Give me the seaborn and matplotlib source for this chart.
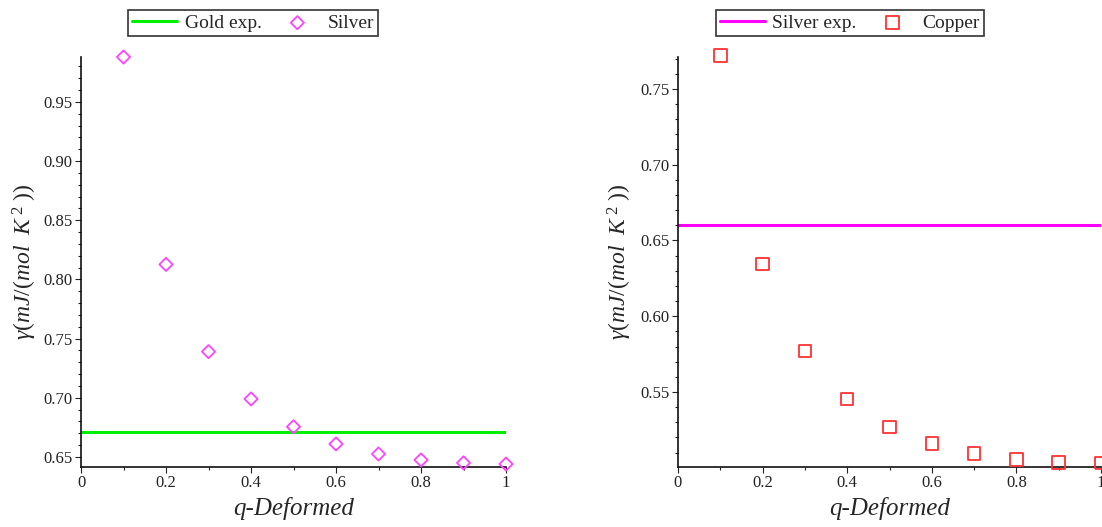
import matplotlib
matplotlib.use("Agg")
import matplotlib.pyplot as plt
import seaborn as sns
import pandas as pd
from matplotlib.ticker import MultipleLocator, FuncFormatter

# ---- data ----
q_values = [0.1, 0.2, 0.3, 0.4, 0.5, 0.6, 0.7, 0.8, 0.9, 1.0]
silver_gamma = [0.988, 0.8127, 0.739, 0.699, 0.6755, 0.661, 0.6525, 0.6475, 0.645, 0.644]
copper_gamma = [0.772, 0.6343, 0.577, 0.5454, 0.527, 0.516, 0.5095, 0.5055, 0.5035, 0.503]
gold_exp = 0.671
silver_exp = 0.660
exp_x = [0.0, 1.0]

sns.set_style("ticks")
plt.rcParams['font.family'] = ['Liberation Serif', 'DejaVu Serif']
plt.rcParams['mathtext.fontset'] = 'custom'
plt.rcParams['mathtext.rm'] = 'Liberation Serif'
plt.rcParams['mathtext.it'] = 'Liberation Serif:italic'

fig = plt.figure(figsize=(11.02, 5.27), dpi=100)
ax1 = fig.add_axes([81/1102, 1-467/527, 425/1102, 410/527])
ax2 = fig.add_axes([678/1102, 1-467/527, 423/1102, 410/527])

def draw(ax, exp_val, exp_label, exp_color, ys, label, marker, mcolor, msize, ylim, leg_center, ylab_x):
    df_line = pd.DataFrame({"q": exp_x, "g": [exp_val, exp_val]})
    sns.lineplot(data=df_line, x="q", y="g", ax=ax, color=exp_color, lw=2.2, label=exp_label)
    df_pts = pd.DataFrame({"q": q_values, "g": ys})
    sns.scatterplot(data=df_pts, x="q", y="g", ax=ax, marker=marker, s=msize,
                    facecolors="none", edgecolor=mcolor, linewidth=1.3, color=mcolor,
                    label=label, clip_on=False, zorder=5)
    ax.set_xlim(0, 1)
    ax.set_ylim(*ylim)
    ax.xaxis.set_major_locator(MultipleLocator(0.2))
    ax.xaxis.set_minor_locator(MultipleLocator(0.1))
    ax.yaxis.set_major_locator(MultipleLocator(0.05))
    ax.yaxis.set_minor_locator(MultipleLocator(0.01))
    ax.xaxis.set_major_formatter(FuncFormatter(lambda v, p: "0" if abs(v) < 1e-9 else ("1" if abs(v-1) < 1e-9 else f"{v:.1f}")))
    ax.yaxis.set_major_formatter(FuncFormatter(lambda v, p: f"{v:.2f}"))
    ax.tick_params(axis='both', which='major', direction='out', length=4, width=0.8,
                   labelsize=12, colors='#222222', pad=2)
    ax.tick_params(axis='both', which='minor', direction='out', length=2.5, width=0.8, colors='#222222')
    for s in ['top', 'right']:
        ax.spines[s].set_visible(False)
    for s in ['left', 'bottom']:
        ax.spines[s].set_linewidth(1.2)
        ax.spines[s].set_color('#111111')
    ax.set_xlabel("q-Deformed", fontsize=18, style='italic', labelpad=4)
    ax.set_ylabel(r"$\gamma(mJ/(mol\ \ K^{\,2}\ ))$", fontsize=17)
    ax.yaxis.set_label_coords(ylab_x, 0.5)
    if ax.legend_:
        ax.legend_.remove()
    h, l = ax.get_legend_handles_labels()
    leg = fig.legend(h, l, loc='center', bbox_to_anchor=(leg_center/1102, 1-23/527),
                     ncol=2, frameon=True, fancybox=False, edgecolor='black',
                     fontsize=14, handlelength=2.3, columnspacing=0.7,
                     borderpad=0.2, handletextpad=0.4, borderaxespad=0)
    leg.get_frame().set_linewidth(1.2)

draw(ax1, gold_exp, "Gold exp.", "#00ee00", silver_gamma, "Silver", "D", "#ff44ff", 45,
     (0.6415, 0.988), 253, -42/425)
draw(ax2, silver_exp, "Silver exp.", "#ff00ff", copper_gamma, "Copper", "s", "#ff3333", 80,
     (0.5005, 0.771), 850, -44/423)

fig.savefig("out.png", dpi=100)
